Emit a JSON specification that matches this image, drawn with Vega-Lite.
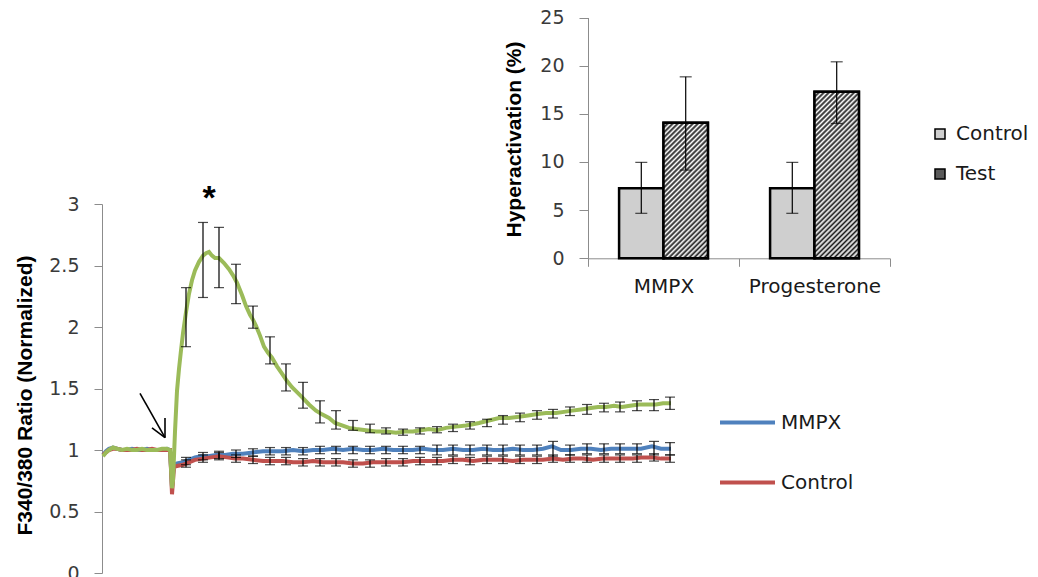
{
"$schema": "https://vega.github.io/schema/vega-lite/v6.json",
"width": 1038, "height": 577,
"autosize": {"type": "none"},
"padding": 0,
"background": "white",
"config": {"view": {"stroke": null}, "axis": {"grid": false, "labelFont": "DejaVu Sans", "labelColor": "#3a3a3a", "domainColor": "#8c8c8c", "tickColor": "#8c8c8c", "titleFont": "Liberation Sans Narrow, Liberation Sans", "titleColor": "#000000"}},
"datasets": {
"lines": [
{"s":"MMPX","t":0,"v":0.96},{"s":"MMPX","t":3,"v":0.99},{"s":"MMPX","t":6,"v":1.01},{"s":"MMPX","t":10,"v":1.02},{"s":"MMPX","t":14,"v":1.01},{"s":"MMPX","t":19,"v":1.0},{"s":"MMPX","t":24,"v":1.0},{"s":"MMPX","t":29,"v":1.01},{"s":"MMPX","t":34,"v":1.0},{"s":"MMPX","t":39,"v":1.0},{"s":"MMPX","t":44,"v":1.01},{"s":"MMPX","t":49,"v":1.0},{"s":"MMPX","t":54,"v":1.0},{"s":"MMPX","t":59,"v":1.0},{"s":"MMPX","t":64,"v":1.01},{"s":"MMPX","t":67,"v":1.0},
{"s":"MMPX","t":68,"v":0.86},{"s":"MMPX","t":69,"v":0.7},{"s":"MMPX","t":70,"v":0.8},{"s":"MMPX","t":71,"v":0.88},{"s":"MMPX","t":74,"v":0.89},{"s":"MMPX","t":80,"v":0.9},{"s":"MMPX","t":86,"v":0.92},{"s":"MMPX","t":92,"v":0.94},{"s":"MMPX","t":98,"v":0.95},{"s":"MMPX","t":105,"v":0.95},{"s":"MMPX","t":113,"v":0.96},{"s":"MMPX","t":122,"v":0.96},{"s":"MMPX","t":130,"v":0.97},{"s":"MMPX","t":140,"v":0.97},{"s":"MMPX","t":150,"v":0.98},{"s":"MMPX","t":160,"v":0.99},{"s":"MMPX","t":170,"v":0.99},{"s":"MMPX","t":180,"v":0.99},{"s":"MMPX","t":190,"v":1.0},{"s":"MMPX","t":200,"v":0.99},{"s":"MMPX","t":210,"v":1.0},{"s":"MMPX","t":220,"v":1.0},{"s":"MMPX","t":230,"v":1.01},{"s":"MMPX","t":240,"v":1.0},{"s":"MMPX","t":250,"v":1.01},{"s":"MMPX","t":260,"v":1.0},{"s":"MMPX","t":270,"v":1.0},{"s":"MMPX","t":280,"v":1.01},{"s":"MMPX","t":290,"v":1.0},{"s":"MMPX","t":300,"v":1.0},{"s":"MMPX","t":310,"v":1.0},{"s":"MMPX","t":320,"v":1.01},{"s":"MMPX","t":330,"v":1.0},{"s":"MMPX","t":340,"v":1.0},{"s":"MMPX","t":350,"v":1.01},{"s":"MMPX","t":360,"v":1.0},{"s":"MMPX","t":370,"v":1.0},{"s":"MMPX","t":380,"v":1.01},{"s":"MMPX","t":390,"v":1.0},{"s":"MMPX","t":400,"v":1.0},{"s":"MMPX","t":410,"v":1.01},{"s":"MMPX","t":420,"v":1.0},{"s":"MMPX","t":430,"v":1.0},{"s":"MMPX","t":440,"v":1.01},{"s":"MMPX","t":449,"v":1.03},{"s":"MMPX","t":458,"v":1.0},{"s":"MMPX","t":468,"v":1.0},{"s":"MMPX","t":478,"v":1.01},{"s":"MMPX","t":488,"v":1.01},{"s":"MMPX","t":498,"v":1.0},{"s":"MMPX","t":508,"v":1.01},{"s":"MMPX","t":518,"v":1.01},{"s":"MMPX","t":528,"v":1.01},{"s":"MMPX","t":538,"v":1.01},{"s":"MMPX","t":549,"v":1.03},{"s":"MMPX","t":558,"v":1.01},{"s":"MMPX","t":568,"v":1.01},
{"s":"Control","t":0,"v":0.96},{"s":"Control","t":3,"v":0.98},{"s":"Control","t":6,"v":1.0},{"s":"Control","t":10,"v":1.01},{"s":"Control","t":14,"v":1.01},{"s":"Control","t":19,"v":1.0},{"s":"Control","t":24,"v":1.0},{"s":"Control","t":29,"v":1.0},{"s":"Control","t":34,"v":1.01},{"s":"Control","t":39,"v":1.0},{"s":"Control","t":44,"v":1.0},{"s":"Control","t":49,"v":1.01},{"s":"Control","t":54,"v":1.0},{"s":"Control","t":59,"v":1.0},{"s":"Control","t":64,"v":1.0},{"s":"Control","t":67,"v":1.0},
{"s":"Control","t":68,"v":0.84},{"s":"Control","t":69,"v":0.64},{"s":"Control","t":70,"v":0.75},{"s":"Control","t":71,"v":0.86},{"s":"Control","t":74,"v":0.87},{"s":"Control","t":80,"v":0.88},{"s":"Control","t":86,"v":0.9},{"s":"Control","t":92,"v":0.92},{"s":"Control","t":100,"v":0.93},{"s":"Control","t":108,"v":0.94},{"s":"Control","t":116,"v":0.95},{"s":"Control","t":124,"v":0.94},{"s":"Control","t":132,"v":0.93},{"s":"Control","t":140,"v":0.93},{"s":"Control","t":150,"v":0.92},{"s":"Control","t":160,"v":0.91},{"s":"Control","t":170,"v":0.91},{"s":"Control","t":180,"v":0.91},{"s":"Control","t":190,"v":0.9},{"s":"Control","t":200,"v":0.9},{"s":"Control","t":210,"v":0.91},{"s":"Control","t":220,"v":0.9},{"s":"Control","t":230,"v":0.9},{"s":"Control","t":240,"v":0.9},{"s":"Control","t":250,"v":0.89},{"s":"Control","t":260,"v":0.89},{"s":"Control","t":270,"v":0.9},{"s":"Control","t":280,"v":0.9},{"s":"Control","t":290,"v":0.9},{"s":"Control","t":300,"v":0.9},{"s":"Control","t":310,"v":0.91},{"s":"Control","t":320,"v":0.91},{"s":"Control","t":330,"v":0.91},{"s":"Control","t":340,"v":0.91},{"s":"Control","t":350,"v":0.92},{"s":"Control","t":360,"v":0.92},{"s":"Control","t":370,"v":0.91},{"s":"Control","t":380,"v":0.92},{"s":"Control","t":390,"v":0.92},{"s":"Control","t":400,"v":0.92},{"s":"Control","t":410,"v":0.91},{"s":"Control","t":420,"v":0.92},{"s":"Control","t":430,"v":0.92},{"s":"Control","t":440,"v":0.92},{"s":"Control","t":450,"v":0.93},{"s":"Control","t":460,"v":0.92},{"s":"Control","t":470,"v":0.93},{"s":"Control","t":480,"v":0.93},{"s":"Control","t":490,"v":0.92},{"s":"Control","t":500,"v":0.93},{"s":"Control","t":510,"v":0.93},{"s":"Control","t":520,"v":0.93},{"s":"Control","t":530,"v":0.93},{"s":"Control","t":540,"v":0.94},{"s":"Control","t":549,"v":0.94},{"s":"Control","t":558,"v":0.93},{"s":"Control","t":568,"v":0.93},
{"s":"Progesterone","t":0,"v":0.95},{"s":"Progesterone","t":3,"v":0.98},{"s":"Progesterone","t":6,"v":1.0},{"s":"Progesterone","t":10,"v":1.02},{"s":"Progesterone","t":14,"v":1.01},{"s":"Progesterone","t":19,"v":1.0},{"s":"Progesterone","t":24,"v":1.01},{"s":"Progesterone","t":29,"v":1.0},{"s":"Progesterone","t":34,"v":1.0},{"s":"Progesterone","t":39,"v":1.01},{"s":"Progesterone","t":44,"v":1.0},{"s":"Progesterone","t":49,"v":1.0},{"s":"Progesterone","t":54,"v":1.0},{"s":"Progesterone","t":59,"v":1.01},{"s":"Progesterone","t":64,"v":1.01},{"s":"Progesterone","t":67,"v":1.0},
{"s":"Progesterone","t":68,"v":0.85},{"s":"Progesterone","t":69,"v":0.69},{"s":"Progesterone","t":70,"v":0.75},{"s":"Progesterone","t":71,"v":0.95},{"s":"Progesterone","t":72,"v":1.15},{"s":"Progesterone","t":74,"v":1.48},{"s":"Progesterone","t":76,"v":1.66},{"s":"Progesterone","t":78,"v":1.81},{"s":"Progesterone","t":80,"v":1.95},{"s":"Progesterone","t":83,"v":2.12},{"s":"Progesterone","t":86,"v":2.27},{"s":"Progesterone","t":89,"v":2.38},{"s":"Progesterone","t":92,"v":2.46},{"s":"Progesterone","t":96,"v":2.53},{"s":"Progesterone","t":100,"v":2.58},{"s":"Progesterone","t":103,"v":2.6},{"s":"Progesterone","t":106,"v":2.61},{"s":"Progesterone","t":109,"v":2.58},{"s":"Progesterone","t":112,"v":2.56},{"s":"Progesterone","t":116,"v":2.56},{"s":"Progesterone","t":121,"v":2.52},{"s":"Progesterone","t":126,"v":2.47},{"s":"Progesterone","t":130,"v":2.42},{"s":"Progesterone","t":134,"v":2.36},{"s":"Progesterone","t":139,"v":2.26},{"s":"Progesterone","t":143,"v":2.17},{"s":"Progesterone","t":147,"v":2.1},{"s":"Progesterone","t":150,"v":2.06},{"s":"Progesterone","t":153,"v":2.01},{"s":"Progesterone","t":157,"v":1.93},{"s":"Progesterone","t":161,"v":1.84},{"s":"Progesterone","t":165,"v":1.79},{"s":"Progesterone","t":169,"v":1.75},{"s":"Progesterone","t":174,"v":1.68},{"s":"Progesterone","t":179,"v":1.62},{"s":"Progesterone","t":184,"v":1.56},{"s":"Progesterone","t":189,"v":1.51},{"s":"Progesterone","t":194,"v":1.47},{"s":"Progesterone","t":199,"v":1.43},{"s":"Progesterone","t":206,"v":1.37},{"s":"Progesterone","t":213,"v":1.32},{"s":"Progesterone","t":219,"v":1.29},{"s":"Progesterone","t":226,"v":1.26},{"s":"Progesterone","t":232,"v":1.22},{"s":"Progesterone","t":239,"v":1.2},{"s":"Progesterone","t":246,"v":1.18},{"s":"Progesterone","t":253,"v":1.17},{"s":"Progesterone","t":263,"v":1.16},{"s":"Progesterone","t":273,"v":1.15},{"s":"Progesterone","t":283,"v":1.15},{"s":"Progesterone","t":293,"v":1.14},{"s":"Progesterone","t":302,"v":1.15},{"s":"Progesterone","t":310,"v":1.15},{"s":"Progesterone","t":318,"v":1.16},{"s":"Progesterone","t":326,"v":1.17},{"s":"Progesterone","t":334,"v":1.16},{"s":"Progesterone","t":343,"v":1.18},{"s":"Progesterone","t":353,"v":1.19},{"s":"Progesterone","t":363,"v":1.2},{"s":"Progesterone","t":370,"v":1.21},{"s":"Progesterone","t":376,"v":1.22},{"s":"Progesterone","t":386,"v":1.24},{"s":"Progesterone","t":396,"v":1.26},{"s":"Progesterone","t":406,"v":1.26},{"s":"Progesterone","t":416,"v":1.27},{"s":"Progesterone","t":425,"v":1.28},{"s":"Progesterone","t":433,"v":1.29},{"s":"Progesterone","t":443,"v":1.3},{"s":"Progesterone","t":453,"v":1.3},{"s":"Progesterone","t":461,"v":1.31},{"s":"Progesterone","t":469,"v":1.32},{"s":"Progesterone","t":478,"v":1.33},{"s":"Progesterone","t":486,"v":1.34},{"s":"Progesterone","t":495,"v":1.35},{"s":"Progesterone","t":503,"v":1.35},{"s":"Progesterone","t":511,"v":1.36},{"s":"Progesterone","t":519,"v":1.35},{"s":"Progesterone","t":527,"v":1.36},{"s":"Progesterone","t":536,"v":1.37},{"s":"Progesterone","t":544,"v":1.37},{"s":"Progesterone","t":553,"v":1.37},{"s":"Progesterone","t":560,"v":1.38},{"s":"Progesterone","t":568,"v":1.38}
],
"err": [
{"s":"MMPX","t":83,"v":0.88,"v2":0.94},{"s":"MMPX","t":100,"v":0.92,"v2":0.98},{"s":"MMPX","t":116,"v":0.93,"v2":0.99},{"s":"MMPX","t":133,"v":0.94,"v2":1.0},{"s":"MMPX","t":150,"v":0.95,"v2":1.01},{"s":"MMPX","t":167,"v":0.96,"v2":1.02},{"s":"MMPX","t":183,"v":0.96,"v2":1.02},{"s":"MMPX","t":200,"v":0.96,"v2":1.02},{"s":"MMPX","t":217,"v":0.97,"v2":1.03},{"s":"MMPX","t":233,"v":0.97,"v2":1.03},{"s":"MMPX","t":250,"v":0.97,"v2":1.03},{"s":"MMPX","t":267,"v":0.97,"v2":1.03},{"s":"MMPX","t":283,"v":0.97,"v2":1.03},{"s":"MMPX","t":300,"v":0.97,"v2":1.03},{"s":"MMPX","t":317,"v":0.97,"v2":1.03},{"s":"MMPX","t":334,"v":0.96,"v2":1.04},{"s":"MMPX","t":350,"v":0.96,"v2":1.04},{"s":"MMPX","t":367,"v":0.96,"v2":1.04},{"s":"MMPX","t":384,"v":0.96,"v2":1.04},{"s":"MMPX","t":400,"v":0.96,"v2":1.04},{"s":"MMPX","t":417,"v":0.96,"v2":1.04},{"s":"MMPX","t":434,"v":0.96,"v2":1.04},{"s":"MMPX","t":450,"v":0.95,"v2":1.07},{"s":"MMPX","t":467,"v":0.96,"v2":1.04},{"s":"MMPX","t":484,"v":0.97,"v2":1.05},{"s":"MMPX","t":501,"v":0.97,"v2":1.05},{"s":"MMPX","t":517,"v":0.97,"v2":1.05},{"s":"MMPX","t":534,"v":0.97,"v2":1.05},{"s":"MMPX","t":551,"v":0.96,"v2":1.07},{"s":"MMPX","t":567,"v":0.96,"v2":1.06},
{"s":"Control","t":83,"v":0.86,"v2":0.92},{"s":"Control","t":100,"v":0.9,"v2":0.96},{"s":"Control","t":116,"v":0.92,"v2":0.98},{"s":"Control","t":133,"v":0.9,"v2":0.96},{"s":"Control","t":150,"v":0.89,"v2":0.95},{"s":"Control","t":167,"v":0.88,"v2":0.94},{"s":"Control","t":183,"v":0.88,"v2":0.94},{"s":"Control","t":200,"v":0.87,"v2":0.93},{"s":"Control","t":217,"v":0.87,"v2":0.93},{"s":"Control","t":233,"v":0.87,"v2":0.93},{"s":"Control","t":250,"v":0.86,"v2":0.92},{"s":"Control","t":267,"v":0.86,"v2":0.92},{"s":"Control","t":283,"v":0.87,"v2":0.93},{"s":"Control","t":300,"v":0.87,"v2":0.93},{"s":"Control","t":317,"v":0.88,"v2":0.94},{"s":"Control","t":334,"v":0.88,"v2":0.94},{"s":"Control","t":350,"v":0.89,"v2":0.95},{"s":"Control","t":367,"v":0.88,"v2":0.94},{"s":"Control","t":384,"v":0.89,"v2":0.95},{"s":"Control","t":400,"v":0.89,"v2":0.95},{"s":"Control","t":417,"v":0.89,"v2":0.95},{"s":"Control","t":434,"v":0.89,"v2":0.95},{"s":"Control","t":450,"v":0.9,"v2":0.96},{"s":"Control","t":467,"v":0.9,"v2":0.96},{"s":"Control","t":484,"v":0.9,"v2":0.96},{"s":"Control","t":501,"v":0.9,"v2":0.96},{"s":"Control","t":517,"v":0.9,"v2":0.96},{"s":"Control","t":534,"v":0.9,"v2":0.96},{"s":"Control","t":551,"v":0.91,"v2":0.97},{"s":"Control","t":567,"v":0.9,"v2":0.96},
{"s":"Progesterone","t":83,"v":1.84,"v2":2.32},{"s":"Progesterone","t":100,"v":2.24,"v2":2.85},{"s":"Progesterone","t":116,"v":2.32,"v2":2.81},{"s":"Progesterone","t":133,"v":2.19,"v2":2.51},{"s":"Progesterone","t":150,"v":1.99,"v2":2.17},{"s":"Progesterone","t":167,"v":1.7,"v2":1.92},{"s":"Progesterone","t":183,"v":1.48,"v2":1.7},{"s":"Progesterone","t":200,"v":1.34,"v2":1.55},{"s":"Progesterone","t":217,"v":1.22,"v2":1.4},{"s":"Progesterone","t":233,"v":1.17,"v2":1.32},{"s":"Progesterone","t":250,"v":1.16,"v2":1.24},{"s":"Progesterone","t":267,"v":1.14,"v2":1.21},{"s":"Progesterone","t":283,"v":1.13,"v2":1.18},{"s":"Progesterone","t":300,"v":1.12,"v2":1.17},{"s":"Progesterone","t":317,"v":1.13,"v2":1.18},{"s":"Progesterone","t":334,"v":1.14,"v2":1.19},{"s":"Progesterone","t":350,"v":1.15,"v2":1.21},{"s":"Progesterone","t":367,"v":1.17,"v2":1.23},{"s":"Progesterone","t":384,"v":1.19,"v2":1.25},{"s":"Progesterone","t":400,"v":1.21,"v2":1.28},{"s":"Progesterone","t":417,"v":1.23,"v2":1.3},{"s":"Progesterone","t":434,"v":1.25,"v2":1.32},{"s":"Progesterone","t":450,"v":1.26,"v2":1.33},{"s":"Progesterone","t":467,"v":1.28,"v2":1.35},{"s":"Progesterone","t":484,"v":1.29,"v2":1.37},{"s":"Progesterone","t":501,"v":1.31,"v2":1.38},{"s":"Progesterone","t":517,"v":1.31,"v2":1.39},{"s":"Progesterone","t":534,"v":1.32,"v2":1.4},{"s":"Progesterone","t":551,"v":1.32,"v2":1.41},{"s":"Progesterone","t":567,"v":1.33,"v2":1.43}
],
"arrow": [
{"t":37,"v":1.46,"t2":62,"v2":1.1},
{"t":49,"v":1.18,"t2":62,"v2":1.1},
{"t":62,"v":1.26,"t2":62,"v2":1.1}
],
"star": [{"t":106,"v":2.96,"label":"*"}],
"bars": [
{"cat":"MMPX","grp":"Control","v":7.26,"lo":4.67,"hi":9.96},
{"cat":"MMPX","grp":"Test","v":14.07,"lo":9.16,"hi":18.84},
{"cat":"Progesterone","grp":"Control","v":7.26,"lo":4.67,"hi":9.96},
{"cat":"Progesterone","grp":"Test","v":17.28,"lo":14.0,"hi":20.4}
]
},
"layer": [
{
"encoding": {
"x": {"field":"t","type":"quantitative","scale":{"domain":[0,573],"range":[103,676],"nice":false,"zero":false},"axis":null},
"y": {"field":"v","type":"quantitative","scale":{"domain":[0,3],"range":[573,204],"nice":false,"zero":false},
"axis":{"orient":"left","offset":-102,"values":[0,0.5,1,1.5,2,2.5,3],"format":"~g","title":"F340/380 Ratio (Normalized)","titleFontSize":21,"titleFontWeight":"bold","titleX":-77,"titleY":395,"titleAngle":-90,"titleAlign":"center","titleBaseline":"middle","labelFontSize":19,"labelPadding":15,"tickSize":8}}
},
"layer": [
{"data":{"name":"lines"},"mark":{"type":"line","strokeWidth":4},
"encoding":{"color":{"field":"s","type":"nominal","scale":{"domain":["MMPX","Control","Progesterone"],"range":["#4f81bd","#c0504d","#9bbb59"]},
"legend":{"values":["MMPX","Control"],"orient":"none","legendX":718,"legendY":393,"title":null,"symbolType":"stroke","symbolSize":3025,"symbolStrokeWidth":4,"labelFont":"DejaVu Sans","labelFontSize":20,"labelColor":"#1a1a1a","rowPadding":20,"labelOffset":4}}}},
{"data":{"name":"err"},"mark":{"type":"rule","color":"black","strokeWidth":1.2},"encoding":{"y2":{"field":"v2"}}},
{"data":{"name":"err"},"transform":[{"fold":["v","v2"],"as":["k","v"]}],"mark":{"type":"tick","orient":"horizontal","size":10,"thickness":1.2,"color":"black"}},
{"data":{"name":"arrow"},"mark":{"type":"rule","color":"black","strokeWidth":1.6},"encoding":{"x2":{"field":"t2"},"y2":{"field":"v2"}}},
{"data":{"name":"star"},"mark":{"type":"text","font":"Liberation Sans","fontSize":34,"fontWeight":"bold","color":"black","baseline":"alphabetic","align":"center"},"encoding":{"text":{"field":"label"}}}
]
},
{
"data":{"name":"bars"},
"encoding": {
"x": {"field":"cat","type":"nominal","scale":{"domain":["MMPX","Progesterone"],"range":[588,890],"paddingInner":0,"paddingOuter":0},
"axis":{"orient":"bottom","offset":-318.7,"title":null,"labelFontSize":20,"labelAngle":0,"labelPadding":10,"tickSize":8,"tickBand":"extent","labelColor":"#1a1a1a"}},
"xOffset": {"field":"grp","type":"nominal","scale":{"domain":["Control","Test"],"paddingOuter":0.7,"paddingInner":0}},
"y": {"field":"v","type":"quantitative","scale":{"domain":[0,25],"range":[258.3,17.5],"nice":false,"zero":false},
"axis":{"orient":"left","offset":-588,"values":[0,5,10,15,20,25],"title":"Hyperactivation (%)","titleFontSize":21,"titleFontWeight":"bold","titleX":-74,"titleY":139,"titleAngle":-90,"titleAlign":"center","titleBaseline":"middle","labelFontSize":19,"labelPadding":15,"tickSize":9}}
},
"layer": [
{"mark":{"type":"bar","stroke":"black","strokeWidth":2.5},
"encoding":{"fill":{"field":"grp","type":"nominal","scale":{"domain":["Control","Test"],"range":["#cfcfcf","#5a5a5a"]},
"legend":{"orient":"none","legendX":930,"legendY":124,"title":null,"symbolType":"square","symbolSize":100,"symbolStrokeColor":"black","symbolStrokeWidth":1.5,"labelFont":"DejaVu Sans","labelFontSize":20,"labelColor":"#1a1a1a","rowPadding":20,"labelOffset":6}}}},
{"transform":[{"filter":"datum.grp === 'Test'"}],"mark":{"type":"bar","stroke":"black","strokeWidth":2.5},
"encoding":{"fill":{"condition":{"test":"datum.cat === 'MMPX'","value":{"gradient":"linear","x1":0,"y1":0,"x2":0.4576,"y2":1.404,"stops":[
{"offset":0,"color":"#1a1a1a"},{"offset":0.0119,"color":"#ffffff"},{"offset":0.0238,"color":"#1a1a1a"},{"offset":0.0357,"color":"#ffffff"},{"offset":0.0476,"color":"#1a1a1a"},{"offset":0.0595,"color":"#ffffff"},{"offset":0.0714,"color":"#1a1a1a"},{"offset":0.0833,"color":"#ffffff"},{"offset":0.0952,"color":"#1a1a1a"},{"offset":0.1071,"color":"#ffffff"},{"offset":0.119,"color":"#1a1a1a"},{"offset":0.131,"color":"#ffffff"},{"offset":0.1429,"color":"#1a1a1a"},{"offset":0.1548,"color":"#ffffff"},{"offset":0.1667,"color":"#1a1a1a"},{"offset":0.1786,"color":"#ffffff"},{"offset":0.1905,"color":"#1a1a1a"},{"offset":0.2024,"color":"#ffffff"},{"offset":0.2143,"color":"#1a1a1a"},{"offset":0.2262,"color":"#ffffff"},{"offset":0.2381,"color":"#1a1a1a"},{"offset":0.25,"color":"#ffffff"},{"offset":0.2619,"color":"#1a1a1a"},{"offset":0.2738,"color":"#ffffff"},{"offset":0.2857,"color":"#1a1a1a"},{"offset":0.2976,"color":"#ffffff"},{"offset":0.3095,"color":"#1a1a1a"},{"offset":0.3214,"color":"#ffffff"},{"offset":0.3333,"color":"#1a1a1a"},{"offset":0.3452,"color":"#ffffff"},{"offset":0.3571,"color":"#1a1a1a"},{"offset":0.369,"color":"#ffffff"},{"offset":0.381,"color":"#1a1a1a"},{"offset":0.3929,"color":"#ffffff"},{"offset":0.4048,"color":"#1a1a1a"},{"offset":0.4167,"color":"#ffffff"},{"offset":0.4286,"color":"#1a1a1a"},{"offset":0.4405,"color":"#ffffff"},{"offset":0.4524,"color":"#1a1a1a"},{"offset":0.4643,"color":"#ffffff"},{"offset":0.4762,"color":"#1a1a1a"},{"offset":0.4881,"color":"#ffffff"},{"offset":0.5,"color":"#1a1a1a"},{"offset":0.5119,"color":"#ffffff"},{"offset":0.5238,"color":"#1a1a1a"},{"offset":0.5357,"color":"#ffffff"},{"offset":0.5476,"color":"#1a1a1a"},{"offset":0.5595,"color":"#ffffff"},{"offset":0.5714,"color":"#1a1a1a"},{"offset":0.5833,"color":"#ffffff"},{"offset":0.5952,"color":"#1a1a1a"},{"offset":0.6071,"color":"#ffffff"},{"offset":0.619,"color":"#1a1a1a"},{"offset":0.631,"color":"#ffffff"},{"offset":0.6429,"color":"#1a1a1a"},{"offset":0.6548,"color":"#ffffff"},{"offset":0.6667,"color":"#1a1a1a"},{"offset":0.6786,"color":"#ffffff"},{"offset":0.6905,"color":"#1a1a1a"},{"offset":0.7024,"color":"#ffffff"},{"offset":0.7143,"color":"#1a1a1a"},{"offset":0.7262,"color":"#ffffff"},{"offset":0.7381,"color":"#1a1a1a"},{"offset":0.75,"color":"#ffffff"},{"offset":0.7619,"color":"#1a1a1a"},{"offset":0.7738,"color":"#ffffff"},{"offset":0.7857,"color":"#1a1a1a"},{"offset":0.7976,"color":"#ffffff"},{"offset":0.8095,"color":"#1a1a1a"},{"offset":0.8214,"color":"#ffffff"},{"offset":0.8333,"color":"#1a1a1a"},{"offset":0.8452,"color":"#ffffff"},{"offset":0.8571,"color":"#1a1a1a"},{"offset":0.869,"color":"#ffffff"},{"offset":0.881,"color":"#1a1a1a"},{"offset":0.8929,"color":"#ffffff"},{"offset":0.9048,"color":"#1a1a1a"},{"offset":0.9167,"color":"#ffffff"},{"offset":0.9286,"color":"#1a1a1a"},{"offset":0.9405,"color":"#ffffff"},{"offset":0.9524,"color":"#1a1a1a"},{"offset":0.9643,"color":"#ffffff"},{"offset":0.9762,"color":"#1a1a1a"},{"offset":0.9881,"color":"#ffffff"},{"offset":1,"color":"#1a1a1a"}]}},
"value":{"gradient":"linear","x1":0,"y1":0,"x2":0.314,"y2":1.182,"stops":[
{"offset":0,"color":"#1a1a1a"},{"offset":0.0119,"color":"#ffffff"},{"offset":0.0238,"color":"#1a1a1a"},{"offset":0.0357,"color":"#ffffff"},{"offset":0.0476,"color":"#1a1a1a"},{"offset":0.0595,"color":"#ffffff"},{"offset":0.0714,"color":"#1a1a1a"},{"offset":0.0833,"color":"#ffffff"},{"offset":0.0952,"color":"#1a1a1a"},{"offset":0.1071,"color":"#ffffff"},{"offset":0.119,"color":"#1a1a1a"},{"offset":0.131,"color":"#ffffff"},{"offset":0.1429,"color":"#1a1a1a"},{"offset":0.1548,"color":"#ffffff"},{"offset":0.1667,"color":"#1a1a1a"},{"offset":0.1786,"color":"#ffffff"},{"offset":0.1905,"color":"#1a1a1a"},{"offset":0.2024,"color":"#ffffff"},{"offset":0.2143,"color":"#1a1a1a"},{"offset":0.2262,"color":"#ffffff"},{"offset":0.2381,"color":"#1a1a1a"},{"offset":0.25,"color":"#ffffff"},{"offset":0.2619,"color":"#1a1a1a"},{"offset":0.2738,"color":"#ffffff"},{"offset":0.2857,"color":"#1a1a1a"},{"offset":0.2976,"color":"#ffffff"},{"offset":0.3095,"color":"#1a1a1a"},{"offset":0.3214,"color":"#ffffff"},{"offset":0.3333,"color":"#1a1a1a"},{"offset":0.3452,"color":"#ffffff"},{"offset":0.3571,"color":"#1a1a1a"},{"offset":0.369,"color":"#ffffff"},{"offset":0.381,"color":"#1a1a1a"},{"offset":0.3929,"color":"#ffffff"},{"offset":0.4048,"color":"#1a1a1a"},{"offset":0.4167,"color":"#ffffff"},{"offset":0.4286,"color":"#1a1a1a"},{"offset":0.4405,"color":"#ffffff"},{"offset":0.4524,"color":"#1a1a1a"},{"offset":0.4643,"color":"#ffffff"},{"offset":0.4762,"color":"#1a1a1a"},{"offset":0.4881,"color":"#ffffff"},{"offset":0.5,"color":"#1a1a1a"},{"offset":0.5119,"color":"#ffffff"},{"offset":0.5238,"color":"#1a1a1a"},{"offset":0.5357,"color":"#ffffff"},{"offset":0.5476,"color":"#1a1a1a"},{"offset":0.5595,"color":"#ffffff"},{"offset":0.5714,"color":"#1a1a1a"},{"offset":0.5833,"color":"#ffffff"},{"offset":0.5952,"color":"#1a1a1a"},{"offset":0.6071,"color":"#ffffff"},{"offset":0.619,"color":"#1a1a1a"},{"offset":0.631,"color":"#ffffff"},{"offset":0.6429,"color":"#1a1a1a"},{"offset":0.6548,"color":"#ffffff"},{"offset":0.6667,"color":"#1a1a1a"},{"offset":0.6786,"color":"#ffffff"},{"offset":0.6905,"color":"#1a1a1a"},{"offset":0.7024,"color":"#ffffff"},{"offset":0.7143,"color":"#1a1a1a"},{"offset":0.7262,"color":"#ffffff"},{"offset":0.7381,"color":"#1a1a1a"},{"offset":0.75,"color":"#ffffff"},{"offset":0.7619,"color":"#1a1a1a"},{"offset":0.7738,"color":"#ffffff"},{"offset":0.7857,"color":"#1a1a1a"},{"offset":0.7976,"color":"#ffffff"},{"offset":0.8095,"color":"#1a1a1a"},{"offset":0.8214,"color":"#ffffff"},{"offset":0.8333,"color":"#1a1a1a"},{"offset":0.8452,"color":"#ffffff"},{"offset":0.8571,"color":"#1a1a1a"},{"offset":0.869,"color":"#ffffff"},{"offset":0.881,"color":"#1a1a1a"},{"offset":0.8929,"color":"#ffffff"},{"offset":0.9048,"color":"#1a1a1a"},{"offset":0.9167,"color":"#ffffff"},{"offset":0.9286,"color":"#1a1a1a"},{"offset":0.9405,"color":"#ffffff"},{"offset":0.9524,"color":"#1a1a1a"},{"offset":0.9643,"color":"#ffffff"},{"offset":0.9762,"color":"#1a1a1a"},{"offset":0.9881,"color":"#ffffff"},{"offset":1,"color":"#1a1a1a"}]}}}},
{"transform":[{"fold":["lo"],"as":["k","v"]}],"mark":{"type":"rule","color":"black","strokeWidth":1.2},"encoding":{"y2":{"field":"hi"}}},
{"transform":[{"fold":["lo","hi"],"as":["k","v"]}],"mark":{"type":"tick","orient":"horizontal","size":12,"thickness":1.2,"color":"black"}}
]
}
],
"resolve": {"scale": {"x":"independent","y":"independent","xOffset":"independent"}}
}
